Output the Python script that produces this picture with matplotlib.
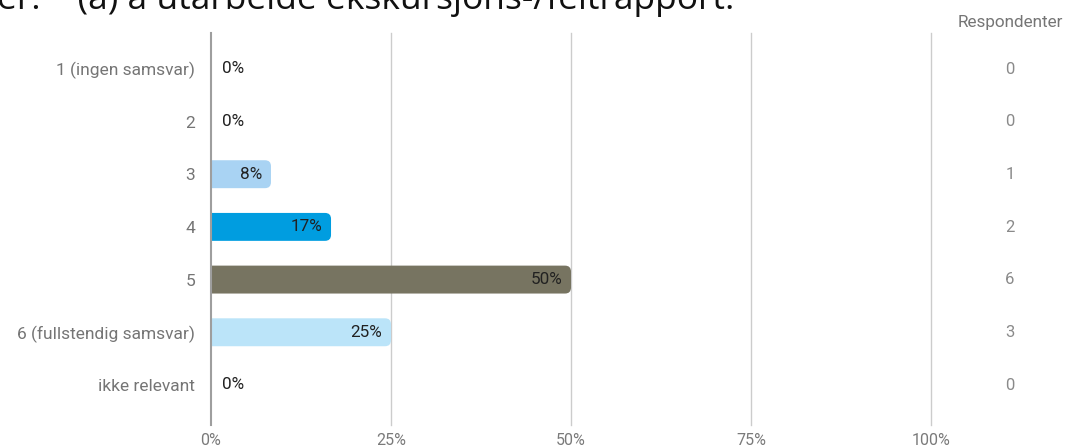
import matplotlib.pyplot as plt
from matplotlib.patches import FancyBboxPatch

# data
categories = ["1 (ingen samsvar)", "2", "3", "4", "5", "6 (fullstendig samsvar)", "ikke relevant"]
percent = [0, 0, 8, 17, 50, 25, 0]
shown = [0, 0, 8.33, 16.67, 50, 25, 0]
respondents = [0, 0, 1, 2, 6, 3, 0]
bar_colors = ["#a9d3f3", "#a9d3f3", "#a9d3f3", "#009de0", "#777461", "#bbe4f9", "#a9d3f3"]
xticks = [0, 25, 50, 75, 100]

plt.rcParams['font.family'] = ['Roboto', 'DejaVu Sans']

W, H = 1067, 448
fig = plt.figure(figsize=(W / 100, H / 100), dpi=100)
ax = fig.add_axes([211 / W, 23 / H, (931 - 211) / W, (425 - 33) / H])

n = len(categories)
ax.set_xlim(0, 100)
ax.set_ylim(n - 1 + 0.76, -0.68)

bar_h = 0.53
# size of 1 px in data units, for the rounded corner
px_x = 100 / (931 - 211)
px_y = (n - 1 + 0.76 + 0.68) / (425 - 33)
r = 6
for i, v in enumerate(shown):
    if v <= 0:
        ax.text(11 * px_x, i, f"{percent[i]}%", ha="left", va="center",
                fontsize=12.3, color="#212121", zorder=3)
        continue
    # start the rounded box left of the axis, the axes clip gives the square end
    box = FancyBboxPatch((-3 * r * px_x, i - bar_h / 2), v + 3 * r * px_x, bar_h,
                         boxstyle="round,pad=0,rounding_size=%f" % (r * px_x),
                         mutation_aspect=px_y / px_x,
                         facecolor=bar_colors[i], edgecolor="none", zorder=2)
    ax.add_patch(box)
    ax.text(v - 9 * px_x, i, f"{percent[i]}%", ha="right", va="center",
            fontsize=12.3, color="#212121", zorder=3)

for x in xticks[1:]:
    ax.axvline(x, color="#cccccc", lw=1, zorder=1, clip_on=False)
ax.axvline(0, color="#9e9e9e", lw=1.5, zorder=4, clip_on=False)

ax.set_yticks(range(n))
ax.set_yticklabels(categories, fontsize=12.5, color="#757575")
ax.tick_params(axis="y", length=0, pad=11.5)
ax.set_xticks(xticks)
ax.set_xticklabels([f"{x}%" for x in xticks], fontsize=11.5, color="#7a7a7a")
ax.tick_params(axis="x", length=0, pad=6)
for s in ax.spines.values():
    s.set_visible(False)

# respondent counts on the right
for i, c in enumerate(respondents):
    ax.text(1010, 448 - (69 + i * 52.67), str(c), transform=None,
            ha="center", va="center", fontsize=12, color="#8a8a8a")
fig.text(1010 / W, 1 - 22 / H, "Respondenter", ha="center", va="center",
         fontsize=12.3, color="#757575")

# title text cut off at the top of the image
fig.text(-3 / W, 1 - 9 / H, "er:    (a) å utarbeide ekskursjons-/feltrapport:",
         ha="left", va="baseline", fontsize=25.5, color="#111111",
         family=["Open Sans", "DejaVu Sans"])

fig.savefig("out.png", dpi=100)
